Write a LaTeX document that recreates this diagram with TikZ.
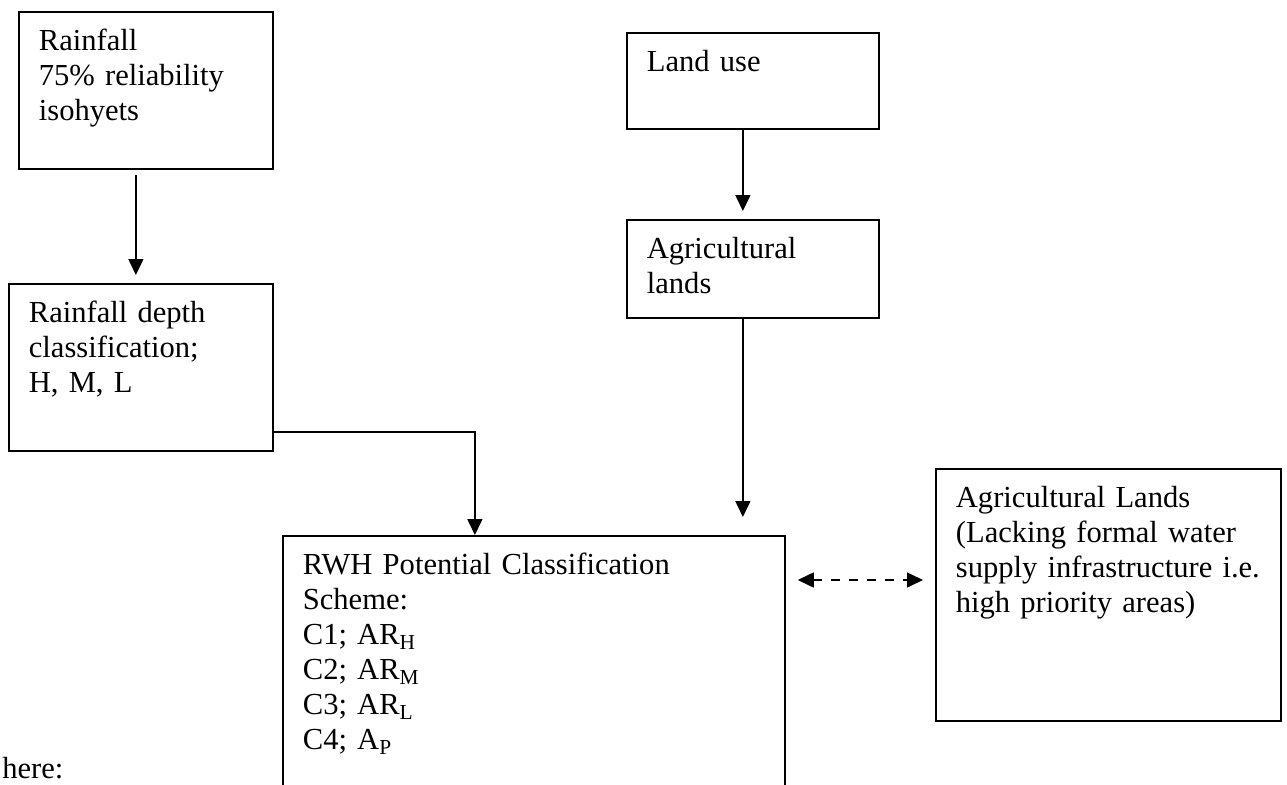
\documentclass[tikz,border=0pt]{standalone}
\usepackage{fontspec}
\setmainfont{Liberation Serif}
\usetikzlibrary{arrows.meta}

\begin{document}
\begin{tikzpicture}[
        box/.style = {draw, line width=1pt, anchor=north west, align=left,
            inner xsep=0.4cm, inner ysep=0pt, text height=0.78cm,
            font=\fontsize{17.4pt}{19.9pt}\selectfont},
        arr/.style = {line width=0.9pt, -{Triangle[length=0.32cm, width=0.3cm]}},
        dblarr/.style = {line width=0.9pt, dash pattern=on 0.18cm off 0.18cm,
            {Triangle[length=0.32cm, width=0.3cm]}-{Triangle[length=0.32cm, width=0.3cm]}}
    ]

    \useasboundingbox (0,0) rectangle (25.74,-15.7);
    \clip (0,0) rectangle (25.74,-15.7);

    % rainfall side
    \node[box, text width=4.28cm, text depth=2.36cm] (rain) at (0.36,-0.22)
        {Rainfall\\75\% reliability\\isohyets};
    \node[box, text width=4.48cm, text depth=2.56cm] (depth) at (0.16,-5.66)
        {Rainfall depth\\classification;\\H, M, L};

    % land use side
    \node[box, text width=4.24cm, text depth=1.14cm] (landuse) at (12.52,-0.64)
        {Land use};
    \node[box, text width=4.24cm, text depth=1.18cm] (agri) at (12.52,-4.38)
        {Agricultural\\lands};

    % classification
    \node[box, text width=9.24cm, text depth=5.22cm] (rwh) at (5.64,-10.7)
        {RWH Potential Classification\\Scheme:\\C1; AR\textsubscript{H}\\C2; AR\textsubscript{M}\\C3; AR\textsubscript{L}\\C4; A\textsubscript{P}};
    \node[box, text width=6.1cm, text depth=4.26cm] (lands) at (18.7,-9.36)
        {Agricultural Lands\\(Lacking formal water\\supply infrastructure i.e.\\high priority areas)};

    \node[anchor=base west, inner sep=0pt, font=\fontsize{17.4pt}{19.9pt}\selectfont] (where) at (0.04,-15.56) {here:};

    % arrows
    \draw[arr, shorten <=0.1cm, shorten >=0.16cm] ([xshift=-0.2cm]rain.south) -- ([xshift=-0.2cm]rain.south |- depth.north);
    \draw[arr] ([yshift=0.4cm]depth.south east) -| ([xshift=-1.18cm]rwh.north);
    \draw[arr, shorten >=0.16cm] ([xshift=-0.2cm]landuse.south) -- ([xshift=-0.2cm]landuse.south |- agri.north);
    \draw[arr, shorten >=0.36cm] ([xshift=-0.2cm]agri.south) -- ([xshift=-0.2cm]agri.south |- rwh.north);
    \draw[dblarr, shorten <=0.24cm, shorten >=0.24cm] ([yshift=-0.9cm]rwh.north east) -- ([yshift=-0.9cm]rwh.north east -| lands.west);

\end{tikzpicture}
\end{document}
